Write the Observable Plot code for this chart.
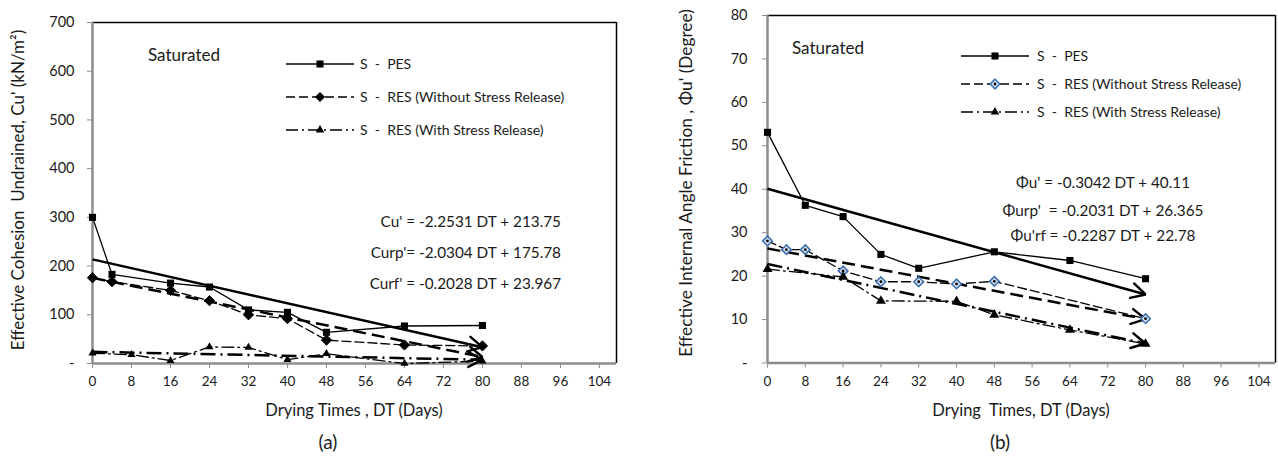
<!DOCTYPE html>
<html><head><meta charset="utf-8">
<script src="https://cdn.jsdelivr.net/npm/d3@7"></script>
<script src="https://cdn.jsdelivr.net/npm/@observablehq/plot@0.6"></script>
<style>
html,body{margin:0;padding:0;background:#fff}
#wrap{position:relative;width:1278px;height:464px;overflow:hidden;font-family:Lato,"Open Sans",sans-serif;color:#1a1a1a}
.t{position:absolute;white-space:pre;line-height:1}
.plot{position:absolute;top:0}
</style></head><body><div id="wrap"></div>
<script>
// ---------------- data ----------------
const dtTicks = [0, 8, 16, 24, 32, 40, 48, 56, 64, 72, 80, 88, 96, 104];
const dtMax = 107.5;
const trendEnd = 80;
const seriesNames = ["S  -  PES", "S  -  RES (Without Stress Release)", "S  -  RES (With Stress Release)"];
const stateLabel = "Saturated";

// (a) effective cohesion
const cuTicks = [0, 100, 200, 300, 400, 500, 600, 700];
const cuPesDT = [0, 4, 16, 24, 32, 40, 48, 64, 80];
const cuPesVal = [300, 183, 165, 157, 110, 105, 64, 77, 78];
const cuRpDT = [0, 4, 16, 24, 32, 40, 48, 64, 80];
const cuRpVal = [176, 168, 150, 129, 100, 92, 48, 38, 36];
const cuRfDT = [0, 8, 16, 24, 32, 40, 48, 64, 80];
const cuRfVal = [21, 18, 6, 34, 33, 8, 20, 0, 5];
const cuSlope = [-2.2531, -2.0304, -0.2028];
const cuIntercept = [213.75, 175.78, 23.967];
const cuEquations = ["Cu' = -2.2531 DT + 213.75", "Curp'= -2.0304 DT + 175.78", "Curf' = -0.2028 DT + 23.967"];
const cuYLabel = "Effective Cohesion  Undrained, Cu' (kN/m\u00B2)";
const cuXLabel = "Drying Times , DT (Days)";
const cuCaption = "(a)";

// (b) effective internal friction angle
const phiTicks = [0, 10, 20, 30, 40, 50, 60, 70, 80];
const phiPesDT = [0, 8, 16, 24, 32, 48, 64, 80];
const phiPesVal = [53.1, 36.3, 33.7, 25.0, 21.8, 25.6, 23.6, 19.4];
const phiRpDT = [0, 4, 8, 16, 24, 32, 40, 48, 80];
const phiRpVal = [28.1, 26.1, 26.1, 21.2, 18.7, 18.7, 18.2, 18.8, 10.2];
const phiRfDT = [0, 16, 24, 40, 48, 64, 80];
const phiRfVal = [21.6, 19.8, 14.3, 14.2, 11.1, 7.6, 4.4];
const phiSlope = [-0.3042, -0.2031, -0.2287];
const phiIntercept = [40.11, 26.365, 22.78];
const phiEquations = ["\u03A6u' = -0.3042 DT + 40.11", "\u03A6urp'  = -0.2031 DT + 26.365", "\u03A6u'rf = -0.2287 DT + 22.78"];
const phiYLabel = "Effective Internal Angle Friction , \u03A6u' (Degree)";
const phiXLabel = "Drying  Times, DT (Days)";
const phiCaption = "(b)";

// ---------------- drawing ----------------
const wrap = document.getElementById("wrap");
const NS = "http://www.w3.org/2000/svg";
const dataDash = ["none", "9,4", "12,4,2,4"];
const trendDash = [null, "13,6", "15,5,2,5"];

function vHead(color) {
  const m = document.createElementNS(NS, "marker");
  m.setAttribute("viewBox", "-18 -10 20 20");
  m.setAttribute("markerWidth", 20);
  m.setAttribute("markerHeight", 20);
  m.setAttribute("refX", 0);
  m.setAttribute("refY", 0);
  m.setAttribute("markerUnits", "userSpaceOnUse");
  m.setAttribute("orient", "auto");
  m.setAttribute("overflow", "visible");
  const p = document.createElementNS(NS, "path");
  p.setAttribute("d", "M-14,-7.5L0,0L-14,7.5");
  p.setAttribute("fill", "none");
  p.setAttribute("stroke", color);
  p.setAttribute("stroke-width", 2.4);
  p.setAttribute("stroke-dasharray", "none");
  p.setAttribute("stroke-linecap", "round");
  m.appendChild(p);
  return m;
}

function makeChart(o) {
  const rows = (dts, vals) => dts.map((dt, i) => ({dt, v: vals[i]}));
  const pes = rows(o.pesDT, o.pesVal), rp = rows(o.rpDT, o.rpVal), rf = rows(o.rfDT, o.rfVal);
  const trends = o.slope.map((s, i) => ({x1: 0, y1: o.intercept[i], x2: trendEnd, y2: o.intercept[i] + s * trendEnd}));
  const H = 400;
  const plot = Plot.plot({
    width: o.width, height: H,
    marginLeft: o.ml, marginRight: o.mr, marginTop: o.mt, marginBottom: H - o.bottom,
    x: {domain: [0, dtMax]},
    y: {domain: [0, o.yMax]},
    style: {fontFamily: "Lato, sans-serif", color: "#1a1a1a", background: "transparent", overflow: "visible"},
    marks: [
      Plot.ruleY([o.yMax], {stroke: "#000", strokeWidth: 1.5}),
      Plot.ruleX([dtMax], {stroke: "#000", strokeWidth: 1.5}),
      Plot.axisX({ticks: dtTicks, tickSize: 5, tickPadding: 8, stroke: "#8c8c8c", fill: "#1a1a1a", fontSize: 13.5, label: null}),
      Plot.axisY({ticks: o.yTicks, tickSize: 5, tickPadding: o.tp, stroke: "#8c8c8c", fill: "#1a1a1a", fontSize: 14.5, label: null,
                  tickFormat: d => d === 0 ? "-" : String(d)}),
      Plot.ruleX([0], {stroke: "#8c8c8c", strokeWidth: 2.5}),
      Plot.ruleY([0], {stroke: "#8c8c8c", strokeWidth: 2.5}),
      Plot.line(pes, {x: "dt", y: "v", stroke: "#000", strokeWidth: 1.3}),
      Plot.line(rp, {x: "dt", y: "v", stroke: "#000", strokeWidth: 1.3, strokeDasharray: dataDash[1]}),
      Plot.line(rf, {x: "dt", y: "v", stroke: "#000", strokeWidth: 1.3, strokeDasharray: dataDash[2]}),
      ...trends.map((t, i) => Plot.link([t], {x1: "x1", y1: "y1", x2: "x2", y2: "y2", stroke: "#000", strokeWidth: 2.5,
                                            strokeDasharray: trendDash[i] || undefined, markerEnd: vHead})),
      Plot.dot(pes, {x: "dt", y: "v", symbol: "square", r: 4, fill: "#000"}),
      o.blueDiamond
        ? Plot.dot(rp, {x: "dt", y: "v", symbol: "diamond2", r: 4.3, fill: "#dbe5f1", stroke: "#3d6fb0", strokeWidth: 1.6})
        : Plot.dot(rp, {x: "dt", y: "v", symbol: "diamond2", r: 4.6, fill: "#000", stroke: "#000", strokeWidth: 1}),
      o.blueDiamond ? Plot.dot(rp, {x: "dt", y: "v", r: 1.4, fill: "#000"}) : null,
      Plot.dot(rf, {x: "dt", y: "v", symbol: "triangle", r: o.triR, fill: "#000"})
    ]
  });
  plot.classList.add("plot");
  plot.style.left = o.left + "px";
  wrap.appendChild(plot);
}

function addText(str, x, y, size, opts = {}) {
  const d = document.createElement("div");
  d.className = "t";
  d.textContent = str;
  d.style.fontSize = size + "px";
  d.style.left = x + "px";
  d.style.top = y + "px";
  const ax = opts.anchor === "end" ? "-100%" : opts.anchor === "start" ? "0" : "-50%";
  d.style.transform = opts.rotate ? "translate(-50%,-50%) rotate(-90deg)" : `translate(${ax},-50%)`;
  wrap.appendChild(d);
}

function addLegend(x0, x1, xm, ys, textX, blue) {
  const svg = d3.select(wrap).append("svg")
    .attr("width", 1278).attr("height", 464)
    .style("position", "absolute").style("left", 0).style("top", 0).style("pointer-events", "none");
  const syms = [d3.symbolSquare, d3.symbolDiamond2, d3.symbolTriangle];
  const sizes = [50, blue ? 58 : 66, 32];
  ys.forEach((y, i) => {
    svg.append("line").attr("x1", x0).attr("x2", x1).attr("y1", y).attr("y2", y)
      .attr("stroke", "#000").attr("stroke-width", 1.4).attr("stroke-dasharray", dataDash[i]);
    const p = svg.append("path").attr("d", d3.symbol(syms[i], sizes[i])()).attr("transform", `translate(${xm},${y})`);
    if (i === 1 && blue) {
      p.attr("fill", "#dbe5f1").attr("stroke", "#3d6fb0").attr("stroke-width", 1.6);
      svg.append("circle").attr("cx", xm).attr("cy", y).attr("r", 1.4).attr("fill", "#000");
    } else p.attr("fill", "#000");
    addText(seriesNames[i], textX, y, 14, {anchor: "start"});
  });
}

makeChart({left: 0, width: 640, ml: 92, mr: 24, mt: 22, bottom: 363, yMax: 700, yTicks: cuTicks, tp: 13, triR: 3,
  pesDT: cuPesDT, pesVal: cuPesVal, rpDT: cuRpDT, rpVal: cuRpVal, rfDT: cuRfDT, rfVal: cuRfVal,
  slope: cuSlope, intercept: cuIntercept, blueDiamond: false});
makeChart({left: 640, width: 638, ml: 127, mr: 3, mt: 15, bottom: 362.5, yMax: 80, yTicks: phiTicks, tp: 15, triR: 3.7,
  pesDT: phiPesDT, pesVal: phiPesVal, rpDT: phiRpDT, rpVal: phiRpVal, rfDT: phiRfDT, rfVal: phiRfVal,
  slope: phiSlope, intercept: phiIntercept, blueDiamond: true});

// texts (a)
addText(stateLabel, 148, 54, 17, {anchor: "start"});
cuEquations.forEach((s, i) => addText(s, 561, [222, 253, 284][i], 15.3, {anchor: "end"}));
addText(cuYLabel, 17, 190, 17, {rotate: true});
addText(cuXLabel, 354, 410, 16.5);
addText(cuCaption, 328, 441, 19);
addLegend(286, 354, 320, [64, 97, 130], 360, false);

// texts (b)
addText(stateLabel, 792, 47, 17, {anchor: "start"});
phiEquations.forEach((s, i) => addText(s, 1103, [183, 211, 236][i], 15.3));
addText(phiYLabel, 686, 183, 17.3, {rotate: true});
addText(phiXLabel, 1021, 410, 16.5);
addText(phiCaption, 1000, 441, 19);
addLegend(961, 1029, 995, [56, 84, 112], 1037, true);
</script></body></html>
